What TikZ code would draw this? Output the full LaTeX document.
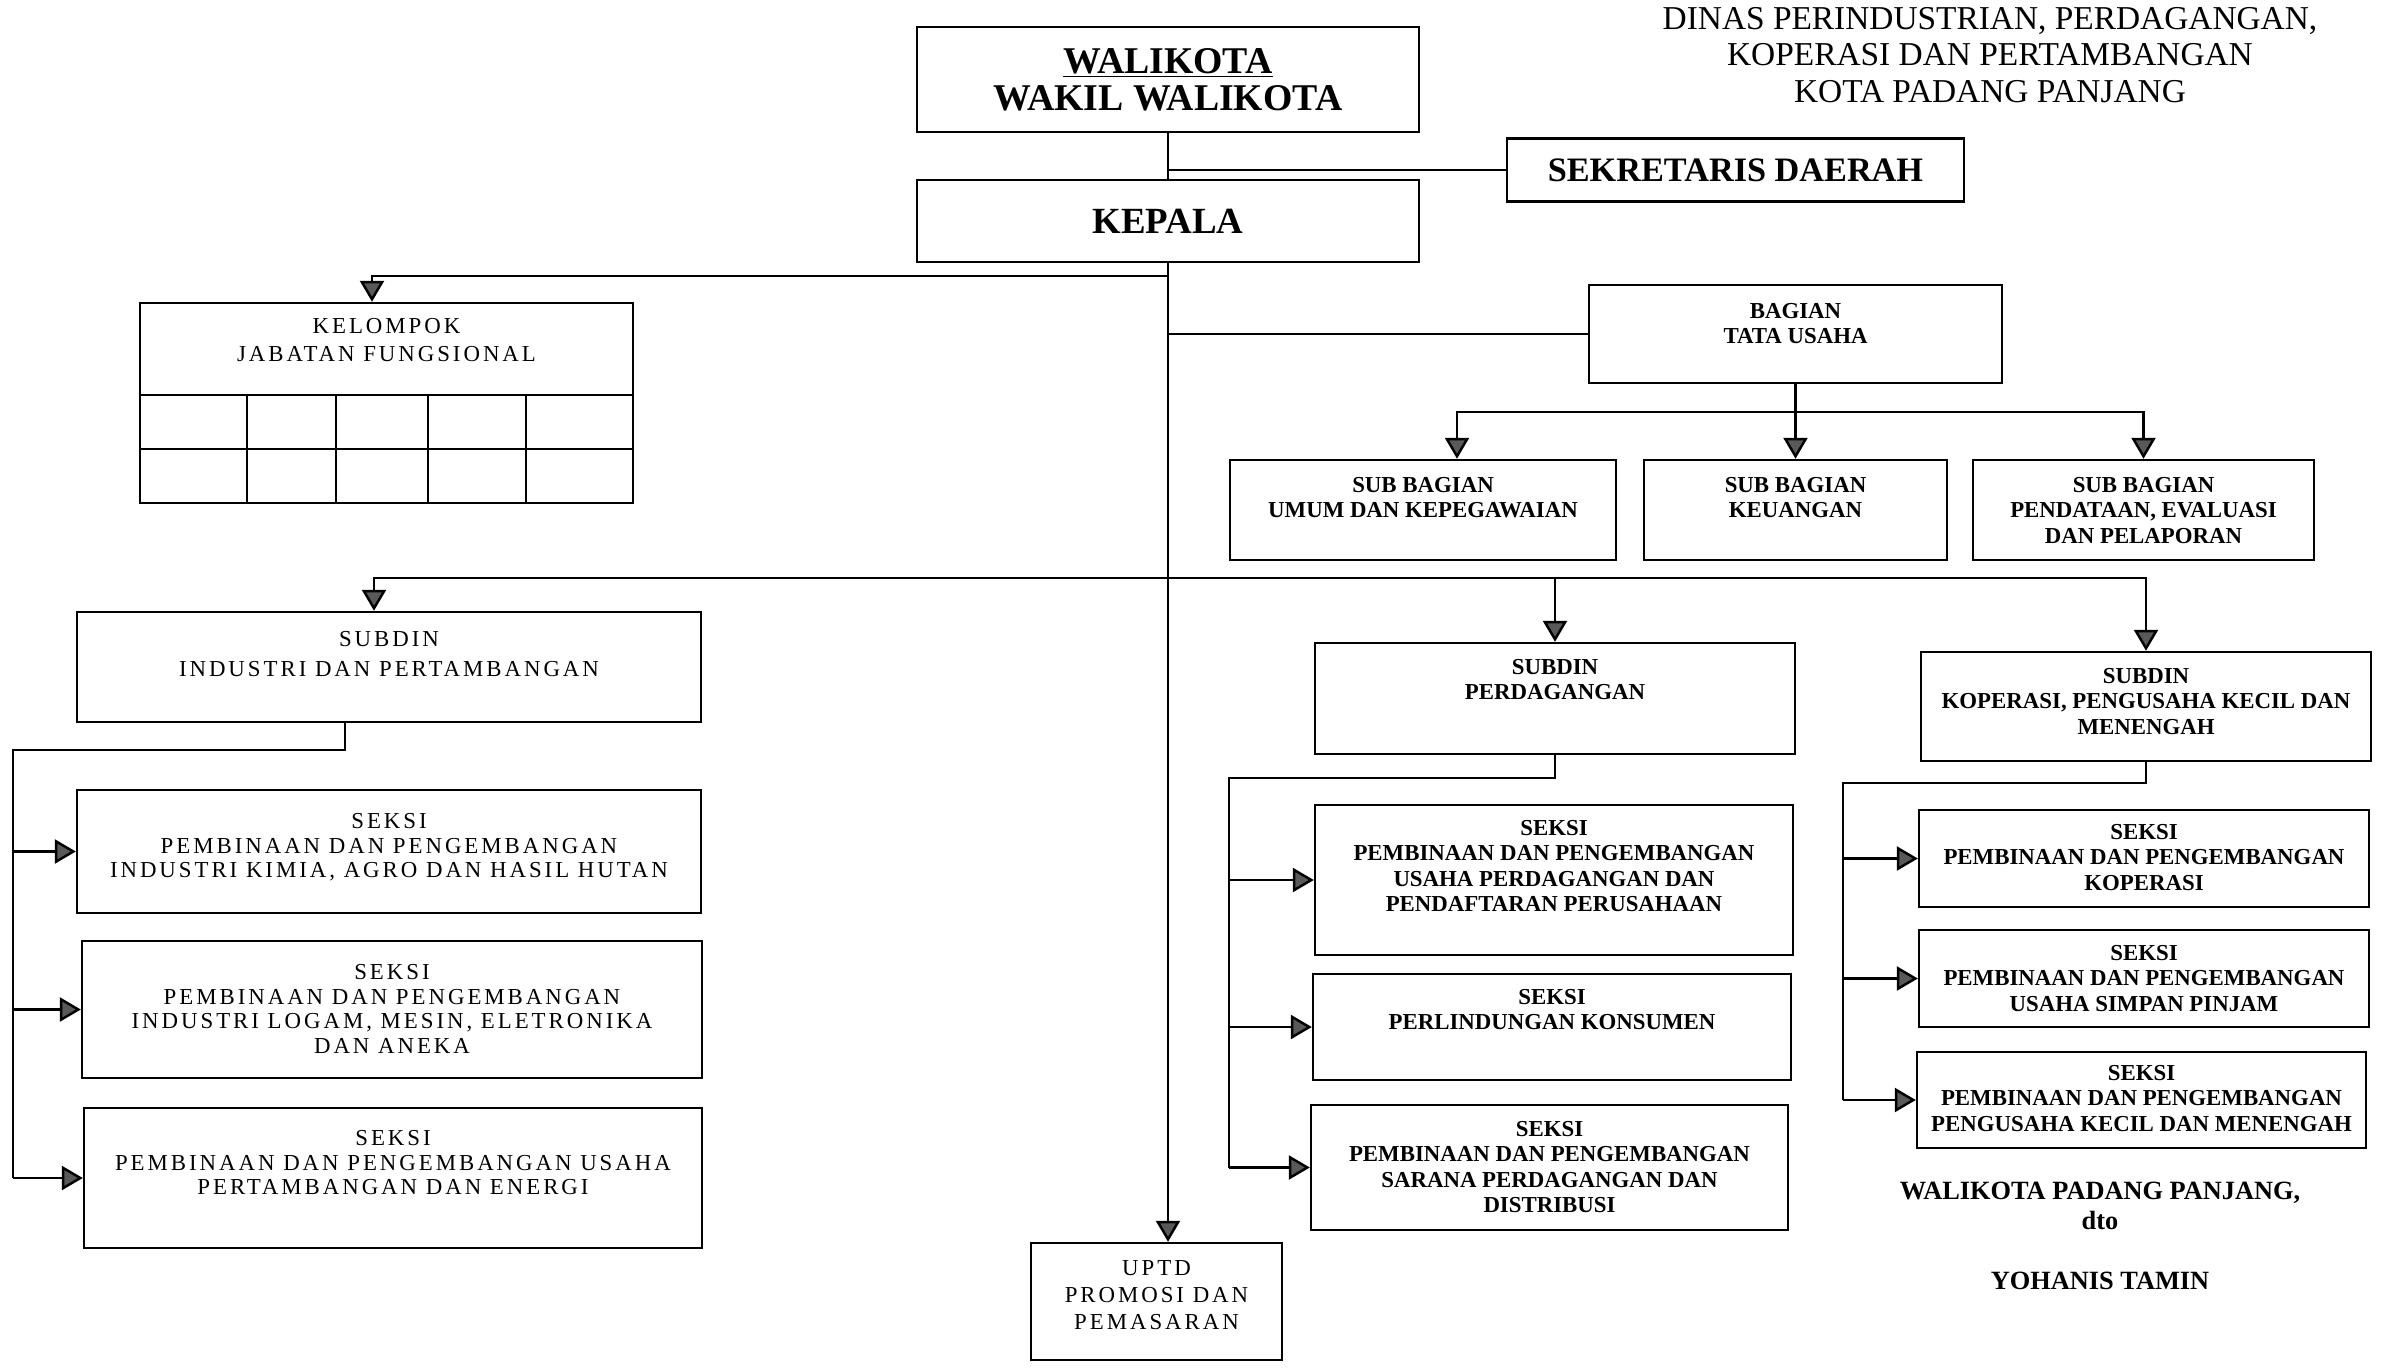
\documentclass[tikz,border=0pt]{standalone}
\usepackage{fontspec}
\setmainfont{Liberation Serif}
\newfontfamily\spacedfont[LetterSpace=13]{Liberation Serif}
\usetikzlibrary{arrows.meta}

\begin{document}
\begin{tikzpicture}[x=0.02cm, y=-0.02cm, line width=1.4pt]
    % Define styles
    \tikzstyle{box} = [rectangle, draw, inner sep=0pt, align=center]
    \tikzstyle{rtext} = [anchor=north, align=center, inner sep=0pt, font=\fontsize{13}{14.4}\selectfont\bfseries]
    \tikzstyle{ltext} = [anchor=north, align=center, inner sep=0pt, font=\spacedfont\fontsize{13}{14}\selectfont]
    \tikzstyle{line} = [draw, -{Triangle[width=0.48cm, length=0.42cm, fill=black!65]}]
    \tikzstyle{link} = [draw]

    \useasboundingbox (0,0) rectangle (2386,1367);

    % Place nodes - title and top
    \node [align=center, font=\fontsize{19}{21}\selectfont] (judul) at (1990, 55) {DINAS PERINDUSTRIAN, PERDAGANGAN,\\KOPERASI DAN PERTAMBANGAN\\KOTA PADANG PANJANG};
    \node [box, minimum width=10.04cm, minimum height=2.10cm, font=\fontsize{21.5}{21}\selectfont\bfseries] (walikota) at (1168, 79.5) {\underline{WALIKOTA}\\WAKIL WALIKOTA};
    \node [box, minimum width=10.04cm, minimum height=1.64cm, font=\fontsize{21}{21}\selectfont\bfseries] (kepala) at (1168, 221) {KEPALA};
    \node [box, minimum width=9.14cm, minimum height=1.26cm, font=\fontsize{19.5}{20}\selectfont\bfseries] (sekretaris) at (1735.5, 170) {SEKRETARIS DAERAH};

    % Place nodes - kelompok jabatan fungsional
    \node [box, minimum width=9.86cm, minimum height=1.84cm, label={[ltext, font=\spacedfont\fontsize{13}{16}\selectfont, yshift=-0.30cm]north:{KELOMPOK\\JABATAN FUNGSIONAL}}] (kelompok) at (386.5, 349) {};
    \node [box, minimum width=9.86cm, minimum height=2.16cm] (kelgrid) at (386.5, 449) {};
    \draw (kelgrid.west) -- (kelgrid.east);
    \foreach \x in {247, 336, 428, 526}
        \draw (\x, 395) -- (\x, 503);

    % Place nodes - tata usaha
    \node [box, minimum width=8.26cm, minimum height=1.96cm, label={[rtext, yshift=-0.36cm]north:{BAGIAN\\TATA USAHA}}] (tatausaha) at (1795.5, 334) {};
    \node [box, minimum width=7.72cm, minimum height=2.00cm, label={[rtext, yshift=-0.35cm]north:{SUB BAGIAN\\UMUM DAN KEPEGAWAIAN}}] (umum) at (1423, 510) {};
    \node [box, minimum width=6.06cm, minimum height=2.00cm, label={[rtext, yshift=-0.35cm]north:{SUB BAGIAN\\KEUANGAN}}] (keuangan) at (1795.5, 510) {};
    \node [box, minimum width=6.82cm, minimum height=2.00cm, label={[rtext, yshift=-0.35cm]north:{SUB BAGIAN\\PENDATAAN, EVALUASI\\DAN PELAPORAN}}] (pendataan) at (2143.5, 510) {};

    % Place nodes - subdin industri dan pertambangan
    \node [box, minimum width=12.48cm, minimum height=2.20cm, label={[ltext, font=\spacedfont\fontsize{13}{17}\selectfont, yshift=-0.39cm]north:{SUBDIN\\INDUSTRI DAN PERTAMBANGAN}}] (subind) at (389, 667) {};
    \node [box, minimum width=12.48cm, minimum height=2.46cm, label={[ltext, yshift=-0.47cm]north:{SEKSI\\PEMBINAAN DAN PENGEMBANGAN\\INDUSTRI KIMIA, AGRO DAN HASIL HUTAN}}] (sind1) at (389, 851.5) {};
    \node [box, minimum width=12.40cm, minimum height=2.74cm, label={[ltext, yshift=-0.47cm]north:{SEKSI\\PEMBINAAN DAN PENGEMBANGAN\\INDUSTRI LOGAM, MESIN, ELETRONIKA\\DAN ANEKA}}] (sind2) at (392, 1009.5) {};
    \node [box, minimum width=12.36cm, minimum height=2.80cm, label={[ltext, yshift=-0.45cm]north:{SEKSI\\PEMBINAAN DAN PENGEMBANGAN USAHA\\PERTAMBANGAN DAN ENERGI}}] (sind3) at (393, 1178) {};

    % Place nodes - uptd
    \node [box, minimum width=5.02cm, minimum height=2.34cm, label={[ltext, font=\spacedfont\fontsize{13}{15.3}\selectfont, yshift=-0.35cm]north:{UPTD\\PROMOSI DAN\\PEMASARAN}}] (uptd) at (1156.5, 1301.5) {};

    % Place nodes - subdin perdagangan
    \node [box, minimum width=9.60cm, minimum height=2.22cm, label={[rtext, yshift=-0.33cm]north:{SUBDIN\\PERDAGANGAN}}] (subdag) at (1555, 698.5) {};
    \node [box, minimum width=9.56cm, minimum height=3.00cm, label={[rtext, yshift=-0.31cm]north:{SEKSI\\PEMBINAAN DAN PENGEMBANGAN\\USAHA PERDAGANGAN DAN\\PENDAFTARAN PERUSAHAAN}}] (sdag1) at (1554, 880) {};
    \node [box, minimum width=9.56cm, minimum height=2.12cm, label={[rtext, yshift=-0.31cm]north:{SEKSI\\PERLINDUNGAN KONSUMEN}}] (sdag2) at (1552, 1027) {};
    \node [box, minimum width=9.54cm, minimum height=2.50cm, label={[rtext, yshift=-0.33cm]north:{SEKSI\\PEMBINAAN DAN PENGEMBANGAN\\SARANA PERDAGANGAN DAN\\DISTRIBUSI}}] (sdag3) at (1549.5, 1167.5) {};

    % Place nodes - subdin koperasi
    \node [box, minimum width=9.00cm, minimum height=2.18cm, label={[rtext, yshift=-0.33cm]north:{SUBDIN\\KOPERASI, PENGUSAHA KECIL DAN\\MENENGAH}}] (subkop) at (2146, 706.5) {};
    \node [box, minimum width=9.00cm, minimum height=1.94cm, label={[rtext, yshift=-0.29cm]north:{SEKSI\\PEMBINAAN DAN PENGEMBANGAN\\KOPERASI}}] (skop1) at (2144, 858.5) {};
    \node [box, minimum width=9.00cm, minimum height=1.94cm, label={[rtext, yshift=-0.31cm]north:{SEKSI\\PEMBINAAN DAN PENGEMBANGAN\\USAHA SIMPAN PINJAM}}] (skop2) at (2144, 978.5) {};
    \node [box, minimum width=8.98cm, minimum height=1.92cm, label={[rtext, yshift=-0.27cm]north:{SEKSI\\PEMBINAAN DAN PENGEMBANGAN\\PENGUSAHA KECIL DAN MENENGAH}}] (skop3) at (2141.5, 1100) {};

    % Signature
    \node [align=center, font=\fontsize{15}{17}\selectfont\bfseries] (ttd) at (2100, 1236) {WALIKOTA PADANG PANJANG,\\dto\\[17pt]YOHANIS TAMIN};

    % Draw edges - top
    \path [link] (walikota) -- (kepala);
    \path [link] (walikota.south |- sekretaris.west) -- (sekretaris.west);
    \path [line] (kepala.south) -- (kepala.south |- uptd.north);
    \coordinate (kelbar) at (1168, 276);
    \path [line] (kelbar) -| ([xshift=-0.29cm]kelompok.north);
    \path [link] (kepala.south |- tatausaha.west) -- (tatausaha.west);

    % Draw edges - sub bagian
    \coordinate (subbar) at (1795.5, 412);
    \path [link] (tatausaha.south) -- (subbar);
    \path [line] (subbar) -- (keuangan.north);
    \path [line] (subbar) -| ([xshift=0.68cm]umum.north);
    \path [line] (subbar) -| (pendataan.north);

    % Draw edges - subdin
    \coordinate (dinbar) at (1168, 578);
    \path [line] (dinbar) -| ([xshift=-0.30cm]subind.north);
    \path [line] (dinbar) -| (subdag.north);
    \path [line] (dinbar) -| (subkop.north);

    % Connect seksi to subdin
    \coordinate (indbar) at (13, 750);
    \path [link] ([xshift=-0.88cm]subind.south) |- (indbar) -- (indbar |- sind3.west);
    \foreach \s in {sind1, sind2, sind3}
        \path [line] (indbar |- \s.west) -- (\s.west);

    \coordinate (dagbar) at (1229, 778);
    \path [link] (subdag.south) |- (dagbar) -- (dagbar |- sdag3.west);
    \foreach \s in {sdag1, sdag2, sdag3}
        \path [line] (dagbar |- \s.west) -- (\s.west);

    \coordinate (kopbar) at (1843, 783);
    \path [link] (subkop.south) |- (kopbar) -- (kopbar |- skop3.west);
    \foreach \s in {skop1, skop2, skop3}
        \path [line] (kopbar |- \s.west) -- (\s.west);

\end{tikzpicture}
\end{document}
